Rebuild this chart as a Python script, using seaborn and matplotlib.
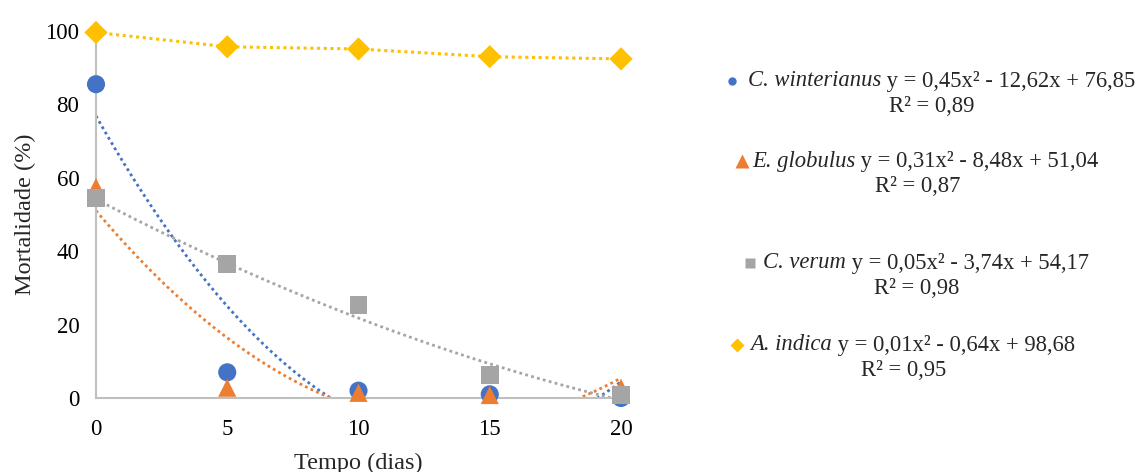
import numpy as np
import pandas as pd
import matplotlib
matplotlib.use("Agg")
import matplotlib.pyplot as plt
import seaborn as sns

# Mortality (%) by exposure time (days) for each essential oil
dias = [0, 5, 10, 15, 20]
winterianus = [85.5, 7.0, 2.0, 1.0, 0.0]
globulus = [57.5, 2.8, 1.4, 0.8, 2.8]
verum = [54.5, 36.5, 25.3, 6.3, 0.8]
indica = [99.6, 95.7, 95.1, 93.0, 92.4]

especies = ["C. winterianus", "E. globulus", "C. verum", "A. indica"]
# quadratic trend coefficients (a, b, c) for y = a x² + b x + c
coef_a = [0.45, 0.31, 0.05, 0.01]
coef_b = [-12.62, -8.48, -3.74, -0.64]
coef_c = [76.85, 51.04, 54.17, 98.68]
r2 = ["0,89", "0,87", "0,98", "0,95"]
equacoes = ["y = 0,45x² - 12,62x + 76,85", "y = 0,31x² - 8,48x + 51,04",
            "y = 0,05x² - 3,74x + 54,17", "y = 0,01x² - 0,64x + 98,68"]

yticks = [0, 20, 40, 60, 80, 100]
xticks = [0, 5, 10, 15, 20]

cores = ["#4472C4", "#ED7D31", "#A5A5A5", "#FFC000"]
marcadores = ["o", "^", "s", "D"]
tamanhos = [170, 170, 160, 140]

sns.set_theme(style="white")
plt.rcParams["font.family"] = ["Liberation Serif", "DejaVu Serif"]

W, H = 1137, 472
fig = plt.figure(figsize=(W / 100, H / 100), dpi=100)
ax = fig.add_axes([96 / W, 1 - 398 / H, (621 - 96) / W, (398 - 31) / H])

df = pd.DataFrame({"dias": dias * 4,
                   "mort": winterianus + globulus + verum + indica,
                   "esp": sum([[e] * 5 for e in especies], [])})

# quadratic trendlines (first three series)
xx = np.linspace(0, 20, 400)
for i in range(3):
    yy = coef_a[i] * xx ** 2 + coef_b[i] * xx + coef_c[i]
    sns.lineplot(x=xx, y=yy, ax=ax, color=cores[i], lw=2.0,
                 linestyle=(0, (1, 1.2)), zorder=2)

# A. indica joined point to point
sns.lineplot(x=dias, y=indica, ax=ax, color=cores[3], lw=2.2,
             linestyle=(0, (1, 1.2)), zorder=2)

for i, e in enumerate(especies):
    sub = df[df["esp"] == e]
    sns.scatterplot(data=sub, x="dias", y="mort", ax=ax, color=cores[i],
                    marker=marcadores[i], s=tamanhos[i], edgecolor="none",
                    clip_on=False, zorder=3 + i, legend=False)

ax.set_xlim(0, 20)
ax.set_ylim(0, 100)
ax.set_xticks(xticks)
ax.set_yticks(yticks)
ax.tick_params(axis="both", length=0, labelsize=16.5, colors="black")
ax.tick_params(axis="y", pad=12)
ax.tick_params(axis="x", pad=15)
for s in ["top", "right"]:
    ax.spines[s].set_visible(False)
for s in ["left", "bottom"]:
    ax.spines[s].set_color("#BFBFBF")
    ax.spines[s].set_linewidth(1.5)
ax.set_xlabel("Tempo (dias)", fontsize=17.5, labelpad=9)
ax.set_ylabel("Mortalidade (%)", fontsize=17.5, labelpad=7)

# key with equations on the right
ov = fig.add_axes([0, 0, 1, 1], zorder=10)
ov.set_xlim(0, W)
ov.set_ylim(H, 0)
ov.axis("off")

chave_x = [732, 742, 750, 737]
chave_gap = [16, 10, 13, 13]
chave_y = [81, 161, 263, 345]
chave_ms = [6, 10, 7, 7]
fs = 16.3
for i in range(4):
    ov.plot([chave_x[i]], [chave_y[i]], marker=marcadores[i], color=cores[i],
            ms=chave_ms[i], mec="none", ls="none")
    nome = ov.text(chave_x[i] + chave_gap[i], chave_y[i], especies[i],
                   fontsize=fs, style="italic", ha="left", va="center")
    eq = ov.annotate(" " + equacoes[i], xy=(1, 0), xycoords=nome,
                     fontsize=fs, ha="left", va="bottom")
    fig.canvas.draw()
    x1 = ov.transData.inverted().transform(eq.get_window_extent().p1)[0]
    centro = ((chave_x[i] - 5) + x1) / 2
    ov.text(centro, chave_y[i] + 25, "R² = " + r2[i], fontsize=fs,
            ha="center", va="center")

fig.savefig("out.png", dpi=100)
